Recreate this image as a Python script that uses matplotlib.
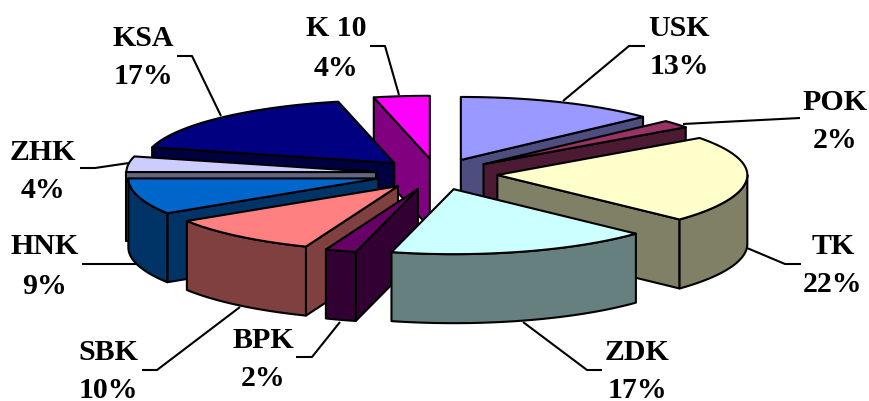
import numpy as np
import matplotlib
matplotlib.use('Agg')
import matplotlib.pyplot as plt
from matplotlib.patches import Polygon

names = ['USK', 'POK', 'TK', 'ZDK', 'BPK', 'SBK', 'HNK', 'ZHK', 'KSA', 'K 10']
values = [13, 2, 22, 17, 2, 10, 9, 4, 17.4, 3.6]
top_colors = ['#9999FF', '#993366', '#FFFFCC', '#CCFFFF', '#660066',
              '#FF8080', '#0066CC', '#CCCCFF', '#000080', '#FF00FF']
side_colors = ['#4D4D80', '#4D1A33', '#808066', '#668080', '#330033',
               '#804040', '#003366', '#666680', '#000040', '#800080']

# centre of the text blocks, name line then percent line
label_x = [679, 835, 833, 637, 263, 108, 45, 43, 143, 336]
label_y = [[29, 67], [102, 140], [247, 285], [353, 390], [340, 378],
           [353, 390], [247, 286], [152, 190], [39, 77], [29, 68]]
leaders = [[(645, 46), (629, 46), (563, 101)],
           [(800, 118), (683, 124)],
           [(801, 264), (785, 264), (747, 248)],
           [(602, 370), (587, 370), (523, 322)],
           [(296, 357), (312, 357), (340, 322)],
           [(142, 370), (157, 370), (240, 307)],
           [(82, 264), (137, 264)],
           [(80, 168), (95, 168), (129, 163)],
           [(177, 56), (192, 56), (221, 116)],
           [(370, 46), (385, 46), (399, 95)]]

# pie geometry in pixels, front of the ellipse is a bit deeper (perspective)
cx, cy = 436.7, 174
rx = 250
ry_back, ry_front = 63, 65
depth = 69
explode = 0.243
lw = 1.5


def project(theta, scale=1.0):
    c = np.cos(theta)
    ry = np.where(c > 0, ry_back, ry_front)
    return scale*rx*np.sin(theta), -scale*ry*c


fig = plt.figure(figsize=(8.70, 4.01), dpi=100)
ax = fig.add_axes([0, 0, 1, 1])
ax.set_xlim(0, 870)
ax.set_ylim(401, 0)
ax.axis('off')

edges = np.cumsum([0] + values)/sum(values)*2*np.pi
order = sorted(range(len(values)),
               key=lambda i: -np.cos((edges[i] + edges[i+1])/2))

z = 1
for i in order:
    a, b = edges[i], edges[i+1]
    dx, dy = project((a + b)/2, explode)
    ax0, ay0 = cx + dx, cy + dy

    # radial walls that face the viewer
    for theta, show in ((a, np.sin(a) < 0), (b, np.sin(b) > 0)):
        if show:
            px, py = project(theta)
            x1, y1 = ax0 + px, ay0 + py
            pts = [(ax0, ay0), (x1, y1), (x1, y1 + depth), (ax0, ay0 + depth)]
            ax.add_patch(Polygon(pts, closed=True, fc=side_colors[i], ec='black',
                                 lw=lw, joinstyle='round', zorder=z))
            z += 1

    # outer wall, only the front half of the rim
    lo, hi = max(a, np.pi/2), min(b, 3*np.pi/2)
    if hi > lo:
        t = np.linspace(lo, hi, 60)
        px, py = project(t)
        xs, ys = ax0 + px, ay0 + py
        pts = np.vstack([np.c_[xs, ys], np.c_[xs[::-1], ys[::-1] + depth]])
        ax.add_patch(Polygon(pts, closed=True, fc=side_colors[i], ec='black',
                             lw=lw, joinstyle='round', zorder=z))
        z += 1

    # top face
    t = np.linspace(a, b, 60)
    px, py = project(t)
    pts = np.vstack([[ax0, ay0], np.c_[ax0 + px, ay0 + py]])
    ax.add_patch(Polygon(pts, closed=True, fc=top_colors[i], ec='black',
                         lw=lw, joinstyle='round', zorder=z))
    z += 1

for i, name in enumerate(names):
    xs, ys = zip(*leaders[i])
    ax.plot(xs, ys, color='black', lw=lw, zorder=z, solid_capstyle='butt')
    for txt, y in zip((name, '%.0f%%' % values[i]), label_y[i]):
        ax.text(label_x[i], y, txt, ha='center', va='center', color='black',
                family='Liberation Serif', fontweight='bold', fontsize=21.5, zorder=z)

fig.savefig('out.png', dpi=100)
